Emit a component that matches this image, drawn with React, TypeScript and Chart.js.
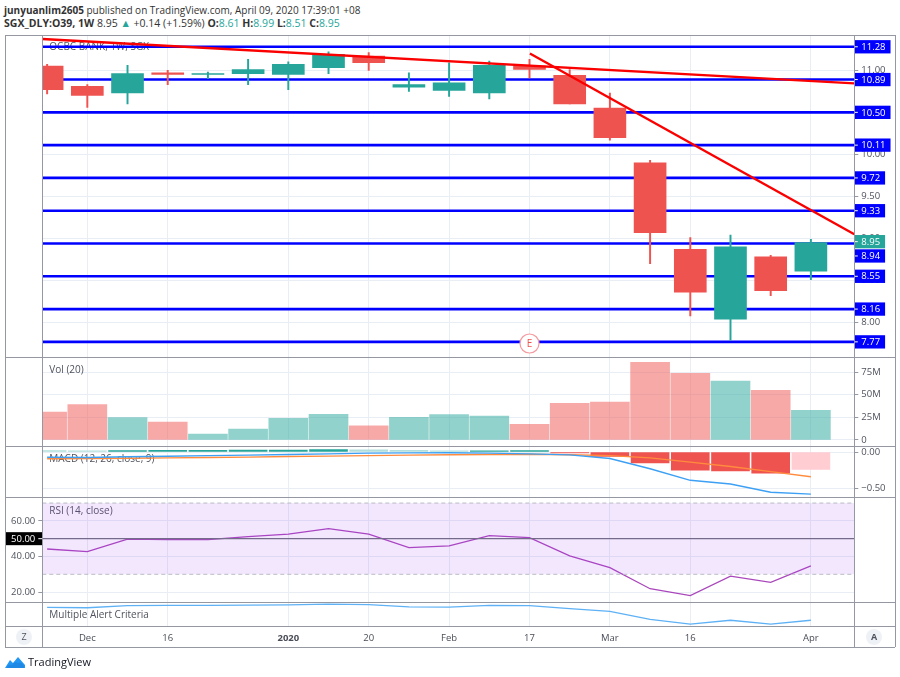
import React, { useEffect, useRef } from "react";
import { Chart, registerables } from "chart.js";

Chart.register(...registerables);

const FONT = "'Open Sans', 'Noto Sans', sans-serif";
const TEAL = "#26a69a";
const RED = "#ef5350";
const GRID = "#e9eef5";
const FRAME = "#9598a1";
const TEXT = "#50535e";

// ---------- data ----------
const weeks = [
  "2019-11-25", "2019-12-02", "2019-12-09", "2019-12-16", "2019-12-23", "2019-12-30",
  "2020-01-06", "2020-01-13", "2020-01-20", "2020-01-27", "2020-02-03", "2020-02-10",
  "2020-02-17", "2020-02-24", "2020-03-02", "2020-03-09", "2020-03-16", "2020-03-23",
  "2020-03-30", "2020-04-06",
];
const opens = [11.05, 10.81, 10.73, 10.97, 10.95, 10.96, 10.95, 11.03, 11.17, 10.80, 10.76, 10.73, 11.05, 10.94, 10.55, 9.90, 8.87, 8.04, 8.78, 8.61];
const highs = [11.07, 10.83, 11.06, 11.00, 10.98, 11.13, 11.10, 11.22, 11.21, 10.97, 11.09, 11.11, 11.13, 11.01, 10.73, 9.93, 9.01, 9.04, 8.80, 8.99];
const lows = [10.72, 10.56, 10.60, 10.83, 10.90, 10.83, 10.77, 10.96, 11.00, 10.75, 10.69, 10.66, 10.91, 10.60, 10.17, 8.70, 8.08, 7.79, 8.32, 8.51];
const closes = [10.77, 10.70, 10.96, 10.95, 10.96, 11.01, 11.07, 11.19, 11.09, 10.83, 10.85, 11.06, 11.01, 10.60, 10.20, 9.07, 8.36, 8.90, 8.38, 8.95];
const volumesM = [31, 39.1, 24.7, 19.9, 6.6, 12.2, 24, 28.4, 15.8, 25.1, 28, 26.5, 17.3, 40.6, 42, 86, 73.8, 65.3, 55, 32.8];
const macdLine = [-0.073, -0.075, -0.066, -0.058, -0.05, -0.043, -0.035, -0.025, -0.015, -0.012, -0.01, -0.015, -0.025, -0.04, -0.09, -0.23, -0.39, -0.44, -0.555, -0.58];
const signalLine = [-0.092, -0.09, -0.086, -0.08, -0.075, -0.07, -0.062, -0.057, -0.05, -0.043, -0.037, -0.035, -0.03, -0.038, -0.05, -0.08, -0.14, -0.2, -0.27, -0.34];
const macdHist = [0.02, 0.015, 0.02, 0.022, 0.024, 0.026, 0.028, 0.035, 0.03, 0.022, 0.015, 0.018, 0.02, -0.012, -0.06, -0.15, -0.25, -0.26, -0.29, -0.24];
const rsiValues = [44.2, 42.7, 49.7, 49.5, 49.5, 51.1, 52.6, 55.6, 52.5, 45, 45.9, 51.7, 50.6, 40.3, 33.7, 21.9, 18, 29, 25.5, 34.7];
const alertValues = [7.8, 7.6, 8.5, 8.6, 8.6, 8.7, 8.8, 9.1, 8.9, 8.0, 7.9, 8.6, 8.5, 7.2, 6.1, 2.8, 0.8, 2.4, 0.8, 2.4];

const levels = [11.28, 10.89, 10.5, 10.11, 9.72, 9.33, 8.94, 8.55, 8.16, 7.77];
const trendStartX = [-0.12, 12.01];
const trendStartY = [11.372, 11.2];
const trendEndX = [20.08, 20.08];
const trendEndY = [10.845, 9.05];
const earningsIndex = 12;

const xTickIdx = [1, 3, 6, 8, 10, 12, 14, 16, 19];
const xTickLabels = ["Dec", "16", "2020", "20", "Feb", "17", "Mar", "16", "Apr"];
const priceTicks = [8.0, 8.5, 9.0, 9.5, 10.0, 10.5, 11.0];
const volTicks = [0, 25, 50, 75];
const volTickLabels = ["0", "25M", "50M", "75M"];
const macdTicks = [0, -0.5];
const macdTickLabels = ["0.00", "\u22120.50"];
const rsiTicks = [20, 40, 60];
const rsiUpper = 70;
const rsiMid = 50;
const rsiLower = 30;

// ---------- layout constants ----------
const X_MIN = -0.12;
const X_MAX = 20.08;
const LEFT_W = 37.3;
const RIGHT_W = 40.7;
const CW = 890;

const up = (i: number) => closes[i] >= opens[i];

const xScale = (bottom: boolean): any => ({
  type: "linear",
  min: X_MIN,
  max: X_MAX,
  offset: false,
  grid: { color: GRID, drawTicks: false, offset: false },
  border: { display: false },
  afterBuildTicks: (s: any) => {
    s.ticks = xTickIdx.map((v) => ({ value: v }));
  },
  ticks: bottom
    ? {
        autoSkip: false,
        maxRotation: 0,
        padding: 7,
        color: "#4a4d57",
        font: (ctx: any) => ({
          size: 9.5,
          family: FONT,
          weight: ctx.tick && ctx.tick.label === "2020" ? "bold" : "normal",
        }),
        callback: (v: any) => {
          const k = xTickIdx.indexOf(Number(v));
          return k >= 0 ? xTickLabels[k] : "";
        },
      }
    : { display: false },
  afterFit: (s: any) => {
    s.height = bottom ? 21 : 0;
    s.paddingLeft = 0;
    s.paddingRight = 0;
  },
});

const yScale = (pos: "left" | "right", min: number, max: number, ticks: number[], fmt: (v: number) => string): any => ({
  type: "linear",
  position: pos,
  min,
  max,
  grid: { color: GRID, drawTicks: true, tickLength: 4, tickColor: FRAME },
  border: { display: false },
  afterBuildTicks: (s: any) => {
    s.ticks = ticks.map((v) => ({ value: v }));
  },
  ticks: {
    callback: (v: any) => fmt(Number(v)),
    font: { size: 9.5, family: FONT },
    color: TEXT,
    padding: 3,
  },
  afterFit: (s: any) => {
    s.width = pos === "right" ? RIGHT_W : LEFT_W;
    s.paddingTop = 0;
    s.paddingBottom = 0;
  },
});

const baseOptions = (padLeft: number, padRight: number) => ({
  responsive: false,
  maintainAspectRatio: false,
  animation: false as const,
  events: [] as any[],
  layout: { padding: { left: padLeft, right: padRight, top: 0, bottom: 0 } },
  plugins: { legend: { display: false }, tooltip: { enabled: false } },
});

const paneTitle = (text: string, dy: number) => ({
  id: "paneTitle",
  beforeDatasetsDraw(chart: any) {
    const { ctx, chartArea } = chart;
    ctx.save();
    ctx.font = `10px ${FONT}`;
    ctx.fillStyle = "#50535e";
    ctx.textBaseline = "middle";
    ctx.fillText(text, chartArea.left + 7, chartArea.top + dy);
    ctx.restore();
  },
});

const hLine = (v: number) => [
  { x: X_MIN, y: v },
  { x: X_MAX, y: v },
];

export default function App() {
  const priceRef = useRef<HTMLCanvasElement>(null);
  const volRef = useRef<HTMLCanvasElement>(null);
  const macdRef = useRef<HTMLCanvasElement>(null);
  const rsiRef = useRef<HTMLCanvasElement>(null);
  const alertRef = useRef<HTMLCanvasElement>(null);

  useEffect(() => {
    Chart.defaults.font.family = FONT;
    const charts: Chart[] = [];

    // ---------- price pane ----------
    const priceLabels = {
      id: "priceLabels",
      afterDraw(chart: any) {
        const { ctx, chartArea } = chart;
        const y = chart.scales.y;
        const last = closes[closes.length - 1];
        const lastY = y.getPixelForValue(last);
        const box = (val: number, color: string, cy: number) => {
          ctx.save();
          ctx.font = `9.5px ${FONT}`;
          const txt = val.toFixed(2);
          const w = ctx.measureText(txt).width + 12;
          const h = 13.3;
          ctx.fillStyle = color;
          ctx.fillRect(chartArea.right, cy - h / 2, w, h);
          ctx.strokeStyle = "#ffffff";
          ctx.lineWidth = 1;
          ctx.beginPath();
          ctx.moveTo(chartArea.right, cy);
          ctx.lineTo(chartArea.right + 3.5, cy);
          ctx.stroke();
          ctx.fillStyle = "#ffffff";
          ctx.textBaseline = "middle";
          ctx.fillText(txt, chartArea.right + 7, cy + 0.5);
          ctx.restore();
        };
        levels.forEach((lv) => {
          let cy = y.getPixelForValue(lv);
          if (Math.abs(cy - lastY) < 13.3) cy = lastY + 13.3;
          box(lv, "#0000ff", cy);
        });
        box(last, TEAL, lastY - 1);
      },
    };
    const earnings = {
      id: "earnings",
      afterDatasetsDraw(chart: any) {
        const { ctx, chartArea } = chart;
        const x = chart.scales.x.getPixelForValue(earningsIndex);
        const cy = chartArea.bottom - 13.5;
        ctx.save();
        ctx.beginPath();
        ctx.arc(x, cy, 9.5, 0, Math.PI * 2);
        ctx.fillStyle = "#ffffff";
        ctx.fill();
        ctx.strokeStyle = "#f49a9e";
        ctx.lineWidth = 1.2;
        ctx.stroke();
        ctx.fillStyle = "#ef5350";
        ctx.font = `10px ${FONT}`;
        ctx.textAlign = "center";
        ctx.textBaseline = "middle";
        ctx.fillText("E", x, cy + 0.5);
        ctx.restore();
      },
    };
    charts.push(
      new Chart(priceRef.current!, {
        type: "bar",
        data: {
          datasets: [
            ...trendStartX.map((sx, k) => ({
              type: "line" as const,
              data: [
                { x: sx, y: trendStartY[k] },
                { x: trendEndX[k], y: trendEndY[k] },
              ],
              borderColor: "#fa0000",
              borderWidth: 2.4,
              pointRadius: 0,
              order: 0,
            })),
            {
              type: "bar" as const,
              data: weeks.map((_, i) => ({ x: i, y: [opens[i], closes[i]] })),
              backgroundColor: weeks.map((_, i) => (up(i) ? TEAL : RED)),
              barThickness: 32,
              grouped: false,
              order: 1,
            },
            {
              type: "bar" as const,
              data: weeks.map((_, i) => ({ x: i, y: [lows[i], highs[i]] })),
              backgroundColor: weeks.map((_, i) => (up(i) ? TEAL : RED)),
              barThickness: 1.3,
              grouped: false,
              order: 2,
            },
            ...levels.map((lv) => ({
              type: "line" as const,
              data: hLine(lv),
              borderColor: "#0000ff",
              borderWidth: 2.6,
              pointRadius: 0,
              order: 3,
            })),
          ] as any,
        },
        options: {
          ...baseOptions(LEFT_W, 0),
          scales: {
            x: xScale(false),
            y: yScale("right", 7.59, 11.42, priceTicks, (v) => v.toFixed(2)),
          },
        } as any,
        plugins: [paneTitle("OCBC BANK, 1W, SGX", 12), earnings, priceLabels],
      })
    );

    // ---------- volume pane ----------
    charts.push(
      new Chart(volRef.current!, {
        type: "bar",
        data: {
          datasets: [
            {
              data: weeks.map((_, i) => ({ x: i, y: volumesM[i] })),
              backgroundColor: weeks.map((_, i) => (up(i) ? "rgba(38,166,154,0.5)" : "rgba(239,83,80,0.5)")),
              barThickness: 39,
              grouped: false,
            },
          ] as any,
        },
        options: {
          ...baseOptions(LEFT_W, 0),
          scales: {
            x: xScale(false),
            y: yScale("right", -6.64, 91.8, volTicks, (v) => volTickLabels[volTicks.indexOf(v)] ?? ""),
          },
        } as any,
        plugins: [paneTitle("Vol (20)", 13)],
      })
    );

    // ---------- MACD pane ----------
    const histColors = macdHist.map((h, i) => {
      const prev = i > 0 ? macdHist[i - 1] : h + 0.001;
      if (h >= 0) return h > prev ? "#26a69a" : "#b2dfdb";
      return h < prev ? "#ef5350" : "#ffcdd2";
    });
    charts.push(
      new Chart(macdRef.current!, {
        type: "bar",
        data: {
          datasets: [
            {
              type: "line" as const,
              data: weeks.map((_, i) => ({ x: i, y: macdLine[i] })),
              borderColor: "#3da0f4",
              borderWidth: 1.4,
              pointRadius: 0,
              order: 0,
            },
            {
              type: "line" as const,
              data: weeks.map((_, i) => ({ x: i, y: signalLine[i] })),
              borderColor: "#ff8b3d",
              borderWidth: 1.4,
              pointRadius: 0,
              order: 1,
            },
            {
              type: "bar" as const,
              data: weeks.map((_, i) => ({ x: i, y: macdHist[i] })),
              backgroundColor: histColors,
              barThickness: 38,
              grouped: false,
              order: 2,
            },
          ] as any,
        },
        options: {
          ...baseOptions(LEFT_W, 0),
          scales: {
            x: xScale(false),
            y: yScale("right", -0.62, 0.083, macdTicks, (v) => macdTickLabels[macdTicks.indexOf(v)] ?? ""),
          },
        } as any,
        plugins: [paneTitle("MACD (12, 26, close, 9)", 13)],
      })
    );

    // ---------- RSI pane ----------
    const rsiBox = {
      id: "rsiBox",
      afterDraw(chart: any) {
        const { ctx, chartArea } = chart;
        const cy = chart.scales.y.getPixelForValue(rsiMid);
        ctx.save();
        ctx.fillStyle = "#000000";
        ctx.fillRect(0, cy - 6.5, chartArea.left, 13);
        ctx.strokeStyle = "#ffffff";
        ctx.beginPath();
        ctx.moveTo(chartArea.left - 4, cy);
        ctx.lineTo(chartArea.left, cy);
        ctx.stroke();
        ctx.fillStyle = "#ffffff";
        ctx.font = `9.5px ${FONT}`;
        ctx.textAlign = "right";
        ctx.textBaseline = "middle";
        ctx.fillText(rsiMid.toFixed(2), chartArea.left - 7, cy + 0.5);
        ctx.restore();
      },
    };
    charts.push(
      new Chart(rsiRef.current!, {
        type: "line",
        data: {
          datasets: [
            {
              data: hLine(rsiUpper),
              borderColor: "#b9bcc4",
              borderWidth: 1,
              borderDash: [4, 3],
              pointRadius: 0,
              fill: false,
            },
            {
              data: hLine(rsiLower),
              borderColor: "#b9bcc4",
              borderWidth: 1,
              borderDash: [4, 3],
              pointRadius: 0,
              fill: "-1",
              backgroundColor: "rgba(160,60,250,0.12)",
            },
            {
              data: hLine(rsiMid),
              borderColor: "#6f727c",
              borderWidth: 1.4,
              pointRadius: 0,
              fill: false,
            },
            {
              data: weeks.map((_, i) => ({ x: i, y: rsiValues[i] })),
              borderColor: "#ab47bc",
              borderWidth: 1.3,
              pointRadius: 0,
              fill: false,
            },
          ] as any,
        },
        options: {
          ...baseOptions(0, RIGHT_W),
          scales: {
            x: xScale(false),
            y: yScale("left", 14.44, 73.4, rsiTicks, (v) => v.toFixed(2)),
          },
        } as any,
        plugins: [paneTitle("RSI (14, close)", 14), rsiBox],
      })
    );

    // ---------- alert pane + time axis ----------
    charts.push(
      new Chart(alertRef.current!, {
        type: "line",
        data: {
          datasets: [
            {
              data: weeks.map((_, i) => ({ x: i, y: alertValues[i] })),
              borderColor: "#5eb1f5",
              borderWidth: 1.3,
              pointRadius: 0,
              fill: false,
            },
          ] as any,
        },
        options: {
          ...baseOptions(LEFT_W, RIGHT_W),
          scales: {
            x: xScale(true),
            y: { type: "linear", display: false, min: 0, max: 10 },
          },
        } as any,
        plugins: [paneTitle("Multiple Alert Criteria", 13)],
      })
    );

    return () => charts.forEach((c) => c.destroy());
  }, []);

  const abs = (left: number, top: number, extra: any = {}) => ({ position: "absolute" as const, left, top, ...extra });
  const frameLine = (left: number, top: number, w: number, h: number) => (
    <div style={abs(left, top, { width: w, height: h, background: FRAME, pointerEvents: "none" })} />
  );
  const tv = { color: TEAL };

  return (
    <div style={{ position: "fixed", left: 0, top: 0, width: 900, height: 677, background: "#ffffff", overflow: "hidden", fontFamily: FONT }}>
      <div style={abs(4, 3.5, { lineHeight: "13px", color: "#333333", whiteSpace: "nowrap" })}>
        <div style={{ fontSize: 10 }}>
          <b>junyuanlim2605</b> published on TradingView.com, April 09, 2020 17:39:01 +08
        </div>
        <div style={{ fontSize: 10.5 }}>
          <b>SGX_DLY:O39, 1W</b> 8.95 <span style={tv}>▲</span> +0.14 (+1.59%) <b>O:</b>
          <span style={tv}>8.61</span> <b>H:</b>
          <span style={tv}>8.99</span> <b>L:</b>
          <span style={tv}>8.51</span> <b>C:</b>
          <span style={tv}>8.95</span>
        </div>
      </div>

      <canvas ref={priceRef} width={CW} height={322} style={abs(5, 35)} />
      <canvas ref={volRef} width={CW} height={89} style={abs(5, 357)} />
      <canvas ref={macdRef} width={CW} height={51} style={abs(5, 446)} />
      <canvas ref={rsiRef} width={CW} height={105} style={abs(5, 497)} />
      <canvas ref={alertRef} width={CW} height={45} style={abs(5, 602)} />

      {frameLine(5, 35, 890, 1)}
      {frameLine(5, 646.5, 890, 1)}
      {frameLine(5, 35, 1, 612)}
      {frameLine(894.5, 35, 1, 612)}
      {frameLine(42, 35, 1, 612)}
      {frameLine(854, 35, 1, 612)}
      {frameLine(5, 356.5, 890, 1)}
      {frameLine(5, 445.5, 890, 1)}
      {frameLine(5, 496.5, 890, 1)}
      {frameLine(5, 601.5, 890, 1)}
      {frameLine(5, 625.5, 890, 1)}

      <div style={abs(16, 629, { width: 16, height: 16, borderRadius: 8, background: "#eef1f6", color: "#50535e", fontSize: 9, lineHeight: "16px", textAlign: "center" })}>Z</div>
      <div style={abs(866, 629, { width: 16, height: 16, borderRadius: 8, background: "#eef1f6", color: "#50535e", fontSize: 9, lineHeight: "16px", textAlign: "center", fontWeight: "bold" })}>A</div>

      <svg width="22" height="14" viewBox="0 0 22 14" style={abs(4, 655)}>
        <path d="M1 13 L6 5 L9 8 L14 2 L21 10 L21 13 Z" fill="#2196f3" />
        <path d="M3 13 Q4 9 8 10 Q10 6 14 8 Q18 7 20 11 L20 13 Z" fill="#1e88e5" />
      </svg>
      <div style={abs(28, 655, { fontSize: 11, lineHeight: "14px", color: "#131722" })}>TradingView</div>
    </div>
  );
}
